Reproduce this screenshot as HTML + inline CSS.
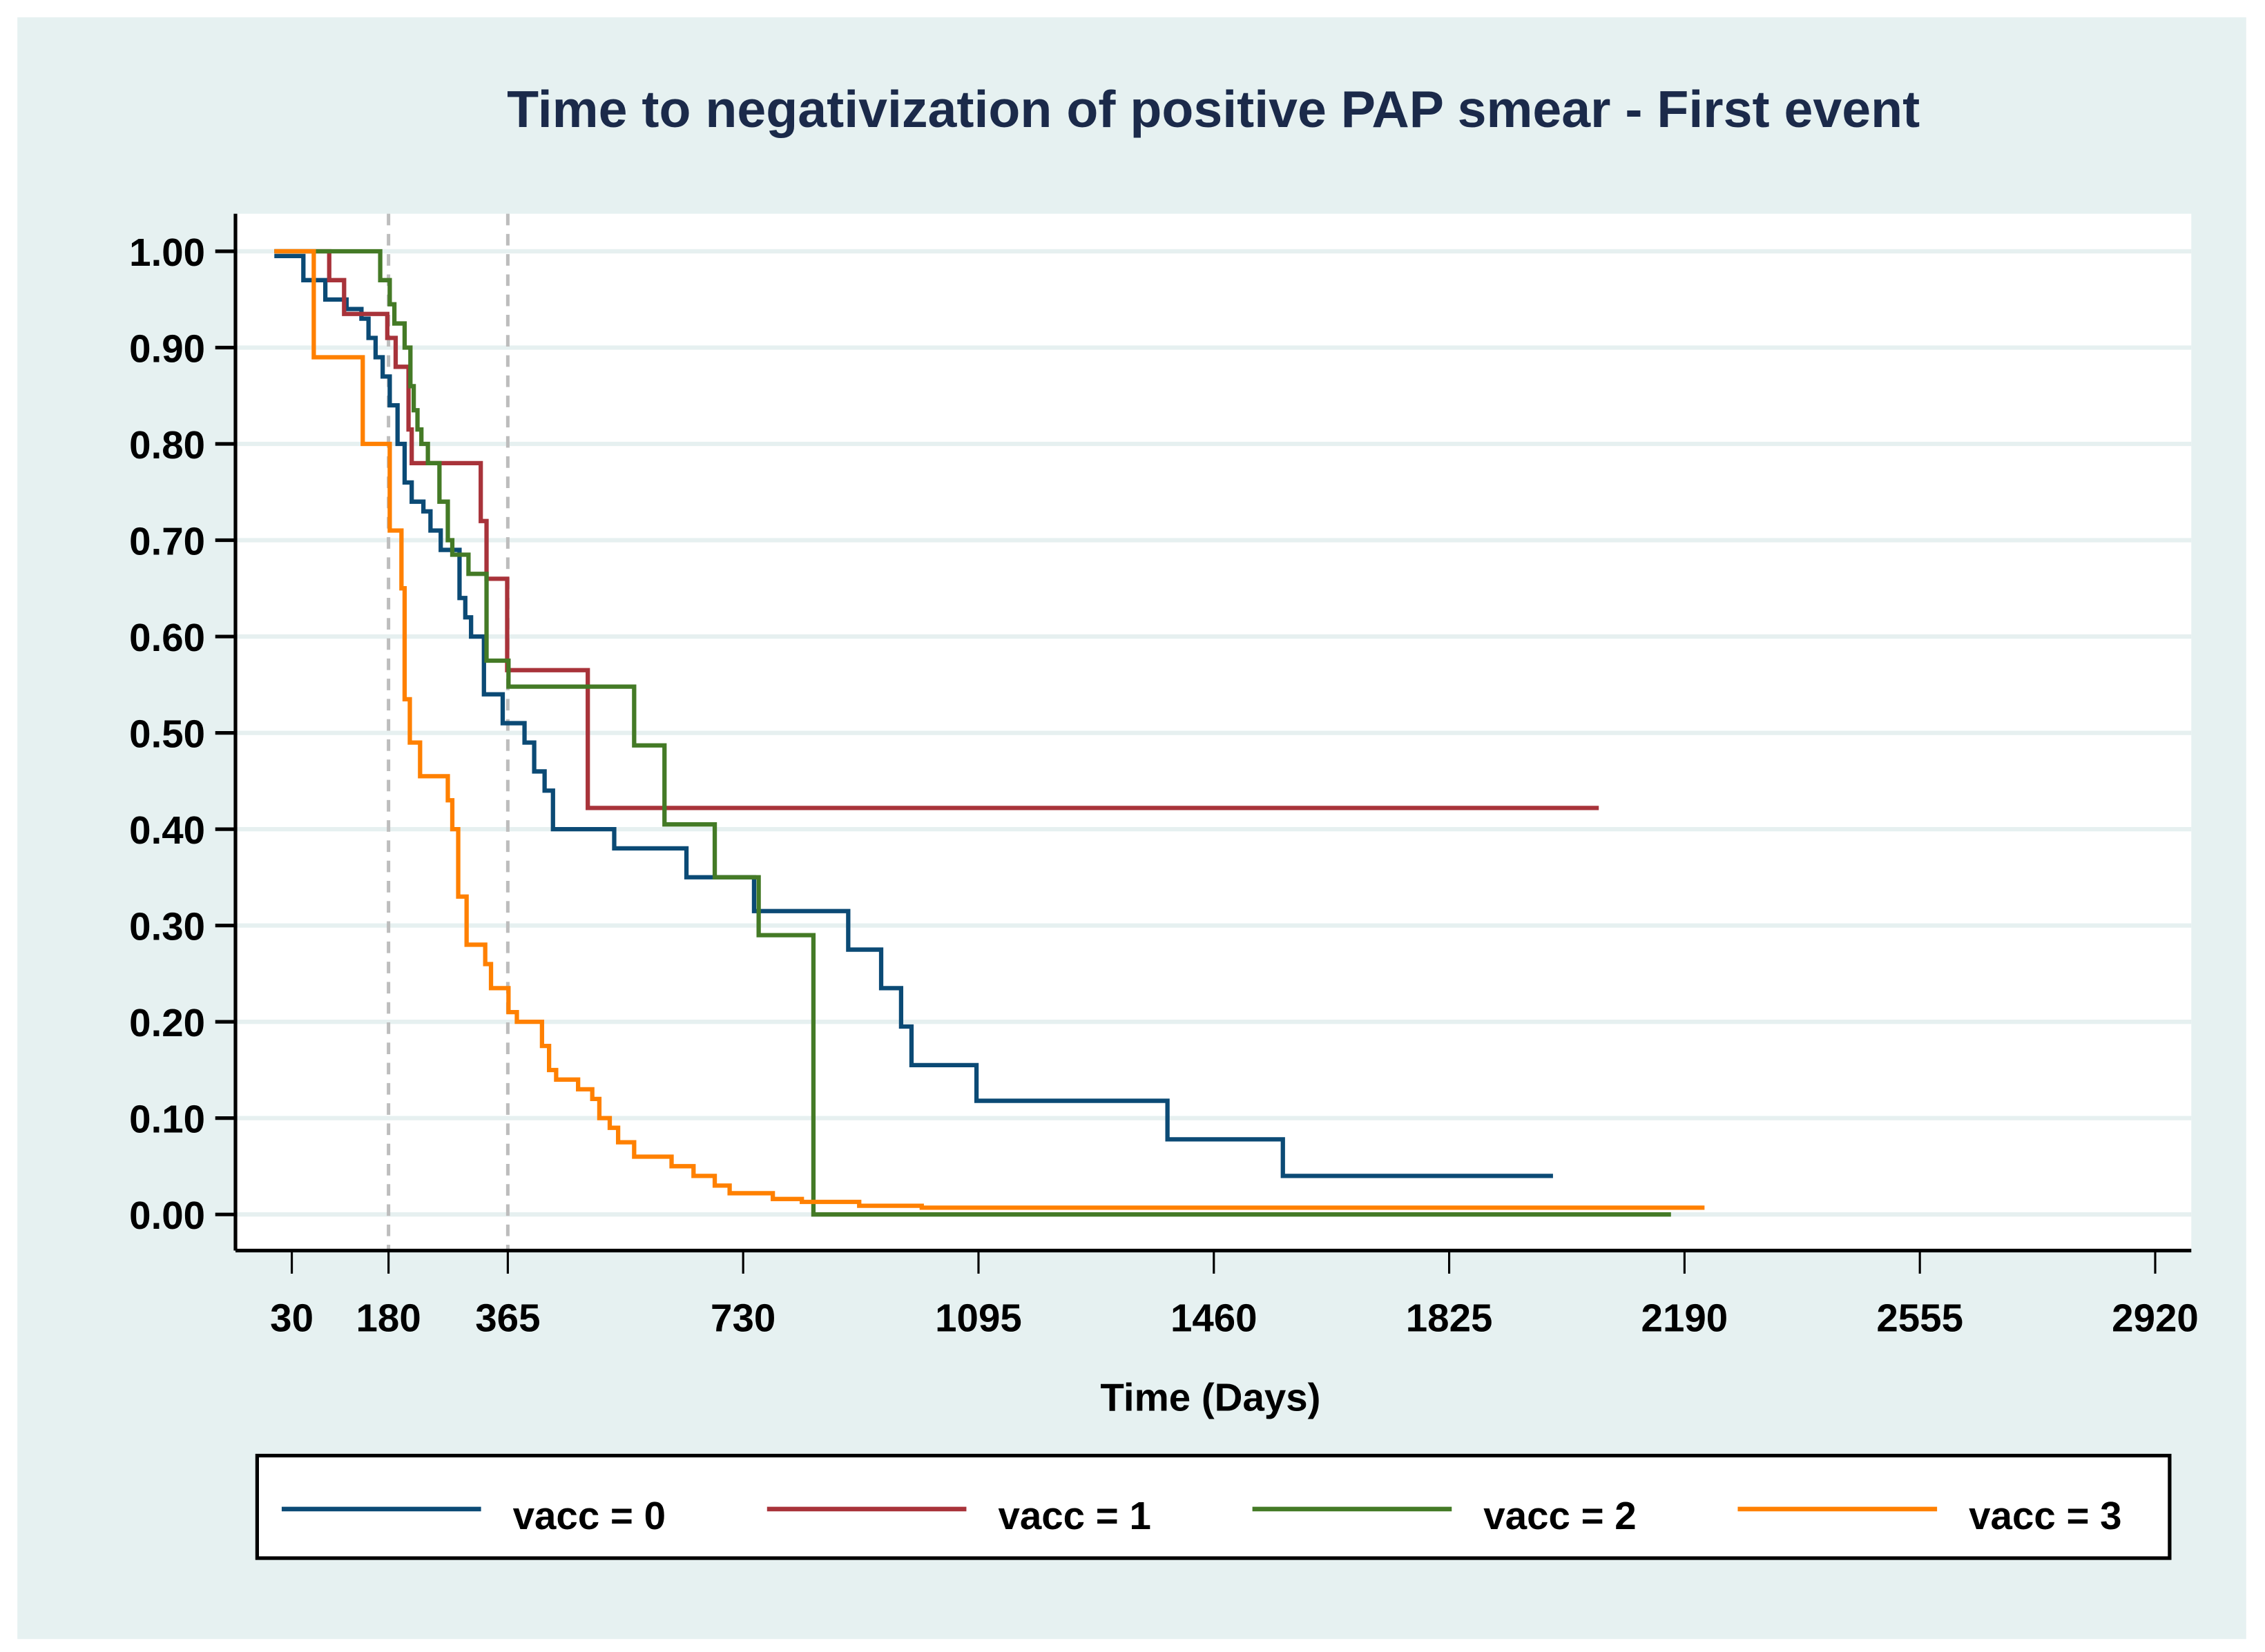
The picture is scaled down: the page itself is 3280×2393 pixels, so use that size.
<!DOCTYPE html>
<html><head><meta charset="utf-8"><style>
html,body{margin:0;padding:0;background:#fff}
svg{display:block}
text{font-family:"Liberation Sans",sans-serif}
</style></head><body>
<svg id="chart" width="3280" height="2393" viewBox="0 0 1568 1144" xmlns="http://www.w3.org/2000/svg">
<rect x="0" y="0" width="1568" height="1144" fill="#ffffff"/>
<rect x="12" y="12" width="1543" height="1123" fill="#e6f1f1"/>
<text x="840" y="88" text-anchor="middle" font-size="36" font-weight="bold" fill="#1b2a4a">Time to negativization of positive PAP smear - First event</text>
<rect x="163" y="148" width="1354" height="718" fill="#ffffff"/>
<g id="grid"></g>
<g id="refs"></g>
<g id="series"></g>
<g id="axes"></g>
<text x="838" y="977" text-anchor="middle" font-size="27" font-weight="bold" fill="#000">Time (Days)</text>
<g>
<rect x="178" y="1008" width="1324" height="71" fill="#fff" stroke="#000" stroke-width="2.5"/>
<g id="legend"></g>
</g>
</svg>
<script>
const yTicks = [0,0.1,0.2,0.3,0.4,0.5,0.6,0.7,0.8,0.9,1.0];
const xTicks = [30,180,365,730,1095,1460,1825,2190,2555,2920];
const refDays = [180,365];
const seriesNames = ["vacc = 0","vacc = 1","vacc = 2","vacc = 3"];
const seriesColors = ["#0b4a75","#a8333a","#447a26","#ff8000"];
const t0 = [3,48,82,115,138,149,160,171,182,194,205,216,234,245,261,290,299,308,328,357,391,406,422,435,530,642,747,893,944,975,991,1092,1388,1567,1986];
const s0 = [0.995,0.97,0.95,0.94,0.93,0.91,0.89,0.87,0.84,0.80,0.76,0.74,0.73,0.71,0.69,0.64,0.62,0.60,0.54,0.51,0.49,0.46,0.44,0.40,0.38,0.35,0.315,0.275,0.235,0.195,0.155,0.118,0.078,0.040,0.040];
const t1 = [3,88,111,178,191,211,216,323,332,364,489,2057];
const s1 = [1,0.97,0.935,0.91,0.88,0.815,0.78,0.72,0.66,0.565,0.422,0.422];
const t2 = [3,167,182,189,205,214,219,225,231,241,259,272,279,304,332,366,561,608,686,754,839,2169];
const s2 = [1,0.97,0.945,0.925,0.90,0.86,0.835,0.815,0.80,0.78,0.74,0.70,0.685,0.665,0.575,0.548,0.487,0.405,0.35,0.29,0,0];
const t3 = [3,64,140,182,200,205,213,229,272,279,288,301,330,339,366,379,418,429,440,474,496,507,523,536,561,619,653,686,709,776,821,910,1007,2221];
const s3 = [1,0.89,0.80,0.71,0.65,0.535,0.49,0.455,0.43,0.40,0.33,0.28,0.26,0.235,0.21,0.20,0.175,0.15,0.14,0.13,0.12,0.10,0.09,0.075,0.06,0.05,0.04,0.03,0.022,0.016,0.013,0.009,0.007,0.007];

const NS="http://www.w3.org/2000/svg";
const X = t => 202 + (t-30)*(1492-202)/(2920-30);
const Y = s => 841 - s*(841-174);
function mk(tag, attrs, parent){const e=document.createElementNS(NS,tag);for(const k in attrs)e.setAttribute(k,attrs[k]);parent.appendChild(e);return e;}
const grid=document.getElementById('grid'), refs=document.getElementById('refs'), ser=document.getElementById('series'), axes=document.getElementById('axes'), leg=document.getElementById('legend');

yTicks.forEach(v=>{
  const g=mk('line',{x1:163,x2:1517,y1:Y(v),y2:Y(v),stroke:'#e6f0f0','stroke-width':3},grid);
  
  
  const tk=mk('line',{x1:149,x2:163,y1:Y(v),y2:Y(v),stroke:'#000','stroke-width':2.5},axes);
  
  
  const tx=mk('text',{x:142,y:Y(v)+10,'text-anchor':'end','font-size':27,'font-weight':'bold',fill:'#000'},axes);
  tx.textContent=v.toFixed(2);
  
  
});
refDays.forEach(d=>{
  const l=mk('line',{x1:X(d),x2:X(d),y1:148,y2:866,stroke:'#bdbdbd','stroke-width':2.4,'stroke-dasharray':'8,6'},refs);
  
  
});
xTicks.forEach(d=>{
  const tk=mk('line',{x1:X(d),x2:X(d),y1:866,y2:882,stroke:'#000','stroke-width':1.5},axes);
  
  
  const tx=mk('text',{x:X(d),y:922,'text-anchor':'middle','font-size':27,'font-weight':'bold',fill:'#000'},axes);
  tx.textContent=String(d);
  
  
});
const ya=mk('line',{x1:163,x2:163,y1:148,y2:866,stroke:'#000','stroke-width':2.5},axes);


const xa=mk('line',{x1:163,x2:1517,y1:866,y2:866,stroke:'#000','stroke-width':2.5},axes);



const T=[t0,t1,t2,t3], S=[s0,s1,s2,s3];
T.forEach((ts,i)=>{
  const ss=S[i];
  let d='M'+X(ts[0]).toFixed(1)+','+Y(ss[0]).toFixed(1);
  for(let k=1;k<ts.length;k++){
    d+=' H'+X(ts[k]).toFixed(1)+' V'+Y(ss[k]).toFixed(1);
  }
  const p=mk('path',{d:d,fill:'none',stroke:seriesColors[i],'stroke-width':3,'stroke-linejoin':'miter'},ser);
  
  
  const lx=195+i*336;
  const ll=mk('line',{x1:lx,x2:lx+138,y1:1045,y2:1045,stroke:seriesColors[i],'stroke-width':3.2},leg);
  
  
  const lt=mk('text',{x:lx+160,y:1059,'font-size':27,'font-weight':'bold',fill:'#000'},leg);
  lt.textContent=seriesNames[i];
  
  
});
</script>
</body></html>
